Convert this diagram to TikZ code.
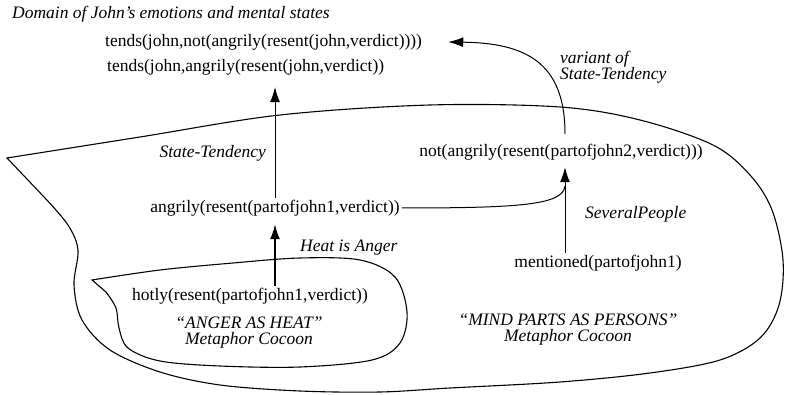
\documentclass[tikz,border=0pt]{standalone}
\usepackage{fontspec}
\setmainfont{Liberation Serif}
\usetikzlibrary{arrows.meta}
\begin{document}
\begin{tikzpicture}[x=1pt,y=-1pt,
  every node/.style={font=\fontsize{17.5}{20}\selectfont, inner sep=2pt},
  lbl/.style={font=\fontsize{17.5}{16}\selectfont\itshape},
  arr/.style={-{Latex[length=15pt,width=10pt]}, line width=1pt},
  bold/.style={line width=1.6pt},
  cocoon/.style={line width=1.1pt}]
\useasboundingbox (0,0) rectangle (785,395);
\coordinate (vx) at (565,0);
% cocoons
\draw[cocoon] plot[smooth, tension=0.55] coordinates {(7,158) (140,137) (280,115) (430,105) (560,107) (640,120) (713,145) (750,175) (772,210) (783,260) (779,305) (760,338) (720,360) (650,373) (560,382) (450,388) (380,392) (300,391) (220,385) (160,372) (110,350) (82,320) (74,285) (78,250) (68,225) (45,198)} -- cycle;
\draw[cocoon] plot[smooth, tension=0.55] coordinates {(92,280) (160,270) (233,263) (300,258) (360,260) (395,277) (407,312) (400,343) (372,360) (300,367) (220,366) (160,361) (128,348) (119,328) (116,308) (106,292)} -- cycle;
% texts
\node[lbl, anchor=west] (title) at (10,14) {Domain of John's emotions and mental states};
\node[anchor=west] (t1) at (103,42) {tends(john,not(angrily(resent(john,verdict))))};
\node[anchor=west] (t2) at (105,67) {tends(john,angrily(resent(john,verdict))};
\node (a) at (275,208) {angrily(resent(partofjohn1,verdict))};
\node (nt) at (561,152) {not(angrily(resent(partofjohn2,verdict)))};
\node (m) at (598,263) {mentioned(partofjohn1)};
\node (h) at (250,296) {hotly(resent(partofjohn1,verdict))};
\node[lbl, anchor=east] (st) at (268,153) {State-Tendency};
\node[lbl, anchor=west, align=left] (v) at (558,67) {variant of\\State-Tendency};
\node[lbl, anchor=west] (sp) at (583,214) {SeveralPeople};
\node[lbl, anchor=west] (hia) at (298,248) {Heat is Anger};
\node[lbl, align=center] (ah) at (249,333) {“ANGER AS HEAT”\\Metaphor Cocoon};
\node[lbl, align=center] (mp) at (568,330) {“MIND PARTS AS PERSONS”\\Metaphor Cocoon};
% connectors
\draw[arr, shorten >=10pt] (a.north) -- (a.north |- t2.south);
\draw[arr, bold, shorten >=6pt] (h.north -| a.south) -- (a.south);
\draw[arr, shorten >=5pt] (m.north -| vx) -- (nt.south -| vx);
\draw[line width=1pt] (a.east) .. controls (520,208) and (563,205) .. (565,186);
\draw[arr, shorten <=8pt] (nt.north -| vx) .. controls (565,62) and (525,43) .. ([xshift=24pt]t1.east);
\end{tikzpicture}
\end{document}
